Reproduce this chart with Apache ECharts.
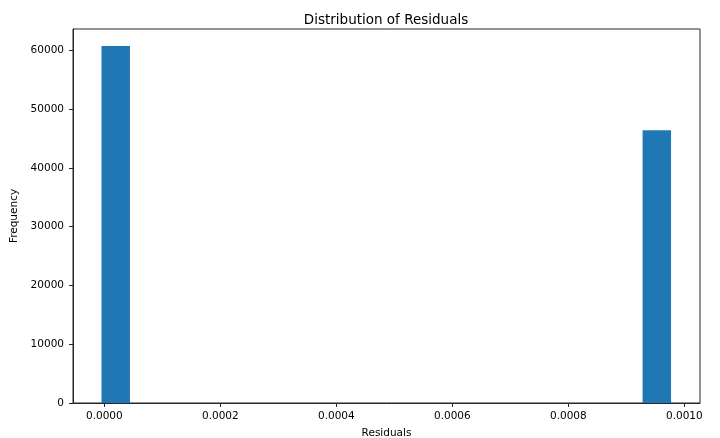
<!DOCTYPE html>
<html>
<head>
<meta charset="utf-8">
<script src="https://cdn.jsdelivr.net/npm/echarts@6/dist/echarts.min.js"></script>
<style>
  html, body { margin: 0; padding: 0; background: #fff; }
  #chart { width: 720px; height: 438px; }
</style>
</head>
<body>
<div id="chart"></div>
<script>
// Histogram of residuals: 20 equal-width bins
const binStart = -0.0000049;
const binWidth = 0.0000491;
const binCounts = [60730, 0, 0, 0, 0, 0, 0, 0, 0, 0, 0, 0, 0, 0, 0, 0, 0, 0, 0, 46390];
const xTicks = [0, 0.0002, 0.0004, 0.0006, 0.0008, 0.001];
const yTicks = [0, 10000, 20000, 30000, 40000, 50000, 60000];

const bins = binCounts.map((c, i) => [binStart + i * binWidth, binStart + (i + 1) * binWidth, c]);

const fontFamily = 'DejaVu Sans';
const textColor = '#262626';

const chart = echarts.init(document.getElementById('chart'), null, { renderer: 'canvas' });
chart.setOption({
  animation: false,
  backgroundColor: '#ffffff',
  title: {
    text: 'Distribution of Residuals',
    left: 381, top: 8, textAlign: 'center',
    textStyle: { fontFamily, fontSize: 13.5, fontWeight: 'normal', color: '#000' }
  },
  grid: {
    left: 73, right: 20, top: 29, bottom: 35,
    outerBoundsMode: 'none', containLabel: false,
    show: true, borderColor: textColor, borderWidth: 1
  },
  xAxis: {
    type: 'value',
    min: -0.000054, max: 0.001027,
    name: 'Residuals', nameLocation: 'middle', nameGap: 25,
    nameTextStyle: { fontFamily, fontSize: 10.5, color: '#000' },
    axisLine: { show: true, onZero: false, lineStyle: { color: textColor, width: 1 } },
    axisTick: { show: true, inside: false, length: 4, lineStyle: { color: textColor, width: 1 }, customValues: xTicks },
    axisLabel: {
      customValues: xTicks, margin: 8,
      fontFamily, fontSize: 10.5, color: '#000',
      formatter: v => v.toFixed(4)
    },
    splitLine: { show: false }
  },
  yAxis: {
    type: 'value',
    min: 0, max: 63600,
    name: 'Frequency', nameLocation: 'middle', nameGap: 47, nameRotate: 90,
    nameTextStyle: { fontFamily, fontSize: 10.5, color: '#000' },
    axisLine: { show: true, onZero: false, lineStyle: { color: textColor, width: 1 } },
    axisTick: { show: true, inside: false, length: 4, lineStyle: { color: textColor, width: 1 }, customValues: yTicks },
    axisLabel: {
      customValues: yTicks, margin: 9,
      fontFamily, fontSize: 10.5, color: '#000',
      formatter: v => String(v)
    },
    splitLine: { show: false }
  },
  series: [{
    type: 'custom',
    data: bins,
    renderItem: (params, api) => {
      const p0 = api.coord([api.value(0), api.value(2)]);
      const p1 = api.coord([api.value(1), 0]);
      if (api.value(2) <= 0) return null;
      return {
        type: 'rect',
        shape: { x: p0[0], y: p0[1], width: p1[0] - p0[0], height: p1[1] - p0[1] },
        style: { fill: '#1f77b4' }
      };
    },
    encode: { x: [0, 1], y: 2 }
  }]
});
</script>
</body>
</html>
